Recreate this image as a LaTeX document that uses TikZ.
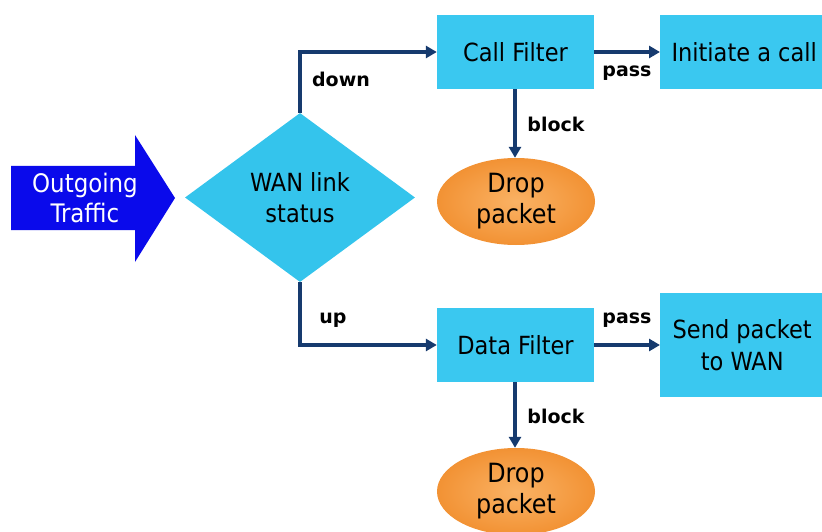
\documentclass[tikz,border=0pt]{standalone}
\usepackage{fontspec}
\setmainfont{DejaVu Sans Condensed}
\newfontfamily\lblfont{DejaVu Sans}
\usetikzlibrary{shapes.geometric,shapes.arrows,arrows.meta}
\definecolor{boxcyan}{RGB}{58,200,240}
\definecolor{dcyan}{RGB}{52,196,236}
\definecolor{dorange}{RGB}{242,146,52}
\definecolor{lorange}{RGB}{250,178,100}
\definecolor{abl}{RGB}{10,10,235}
\definecolor{navy}{RGB}{22,58,110}
\tikzset{
  procbox/.style={rectangle, fill=boxcyan, inner sep=0pt, font=\fontsize{25}{29}\selectfont, align=center},
  dropnode/.style={ellipse, inner color=lorange, outer color=dorange, inner sep=0pt, minimum width=158pt, minimum height=87pt, font=\fontsize{26.5}{31}\selectfont, align=center},
  conn/.style={draw=navy, line width=3.2pt, -{Triangle[length=11pt,width=12pt]}},
  lbl/.style={font=\lblfont\bfseries\fontsize{19}{22}\selectfont, text=black}
}
\begin{document}
\begin{tikzpicture}[x=1pt,y=-1pt]
\useasboundingbox (0,0) rectangle (822,532);
% outgoing traffic arrow
\fill[abl] (11,166) -- (135,166) -- (135,135) -- (175,198) -- (135,262) -- (135,230) -- (11,230) -- cycle;
\node[text=white, font=\fontsize{25.5}{30}\selectfont, align=center] (ot) at (85,198) {Outgoing\\Traffic};
% diamond
\node[diamond, fill=dcyan, inner sep=0pt, minimum width=230pt, minimum height=169pt, aspect=1.36, font=\fontsize{25}{31}\selectfont, align=center] (wan) at (300,197.5) {WAN link\\status};
% boxes
\node[procbox, minimum width=157pt, minimum height=74pt] (cf) at (515.5,52) {Call Filter};
\node[procbox, minimum width=172pt, minimum height=74pt, anchor=west] (ic) at (660,52) {\hspace{-4pt}Initiate a call};
\node[procbox, minimum width=157pt, minimum height=74pt] (df) at (515.5,345) {Data Filter};
\node[procbox, minimum width=164pt, minimum height=104pt, anchor=west, font=\fontsize{25}{32}\selectfont] (sp) at (660,345) {Send packet\\to WAN};
\node[dropnode] (d1) at (516,201.5) {Drop\\packet};
\node[dropnode] (d2) at (516,491.5) {Drop\\packet};
% connectors
\draw[conn] (wan.north) |- (cf.west);
\draw[conn] (wan.south) |- (df.west);
\draw[conn] (cf.east) -- (ic.west);
\draw[conn] (df.east) -- (sp.west);
\draw[conn] (cf.south -| 515,0) -- (d1.north -| 515,0);
\draw[conn] (df.south -| 515,0) -- (d2.north -| 515,0);
% labels
\node[lbl] (ldown) at (341,79) {down};
\node[lbl] (lup) at (333,320) {up};
\node[lbl] (lb1) at (556,124) {block};
\node[lbl] (lb2) at (556,416) {block};
\node[lbl] (lp1) at (627,73) {pass};
\node[lbl] (lp2) at (627,320) {pass};
\end{tikzpicture}
\end{document}
